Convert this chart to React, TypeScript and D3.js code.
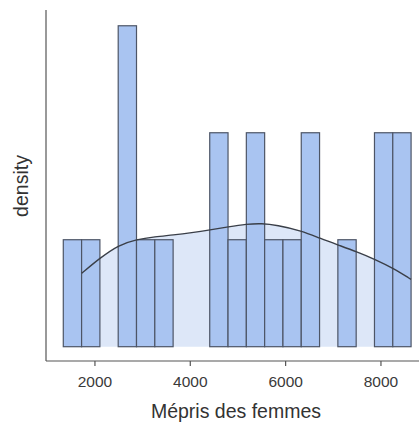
import * as d3 from 'd3'

// histogram bins (value axis), 19 bins of equal width
const binStart = 1336
const binWidth = 384
const counts = [1, 1, 0, 3, 1, 1, 0, 0, 2, 1, 2, 1, 1, 2, 0, 1, 0, 2, 2]

// density curve
const densX = [1722, 2106, 2490, 2876, 3260, 3644, 4030, 4414, 4798, 5184, 5498, 5813, 6337, 6721, 7105, 7491, 7875, 8259, 8630]
const densY = [
  0.0000851, 0.0001028, 0.0001178, 0.0001245, 0.0001275, 0.0001295, 0.0001321, 0.0001353, 0.000139, 0.0001422,
  0.000143, 0.000141, 0.0001344, 0.0001256, 0.0001178, 0.0001101, 0.0001013, 0.0000909, 0.0000781,
]

const xTicks = [2000, 4000, 6000, 8000]

const W = 419
const H = 423
const left = 46
const bottom = 361
const top = 10

const App = () => {
  const n = d3.sum(counts)
  const bins = counts.map((c, i) => ({
    x0: binStart + i * binWidth,
    x1: binStart + (i + 1) * binWidth,
    d: c / (n * binWidth),
  }))
  const dens = densX.map((x, i) => ({ x, y: densY[i] }))

  const xScale = d3.scaleLinear().domain([0, 8798]).range([-0.4, W])
  const yScale = d3.scaleLinear().domain([-1.657e-5, 3.903e-4]).range([bottom, top])

  const area = d3
    .area<{ x: number; y: number }>()
    .x((d) => xScale(d.x))
    .y0(yScale(0))
    .y1((d) => yScale(d.y))
    .curve(d3.curveBasis)
  const line = d3
    .line<{ x: number; y: number }>()
    .x((d) => xScale(d.x))
    .y((d) => yScale(d.y))
    .curve(d3.curveBasis)

  const font = 'Liberation Sans, Arial, sans-serif'

  return (
    <svg width={W} height={H} style={{ position: 'absolute', left: 0, top: 0 }}>
      <rect width={W} height={H} fill="#ffffff" />
      <path d={area(dens) ?? ''} fill="#dde7f8" />
      {bins
        .filter((b) => b.d > 0)
        .map((b, i) => (
          <rect
            key={i}
            x={xScale(b.x0)}
            y={yScale(b.d)}
            width={xScale(b.x1) - xScale(b.x0)}
            height={yScale(0) - yScale(b.d)}
            fill="#a9c4f1"
            stroke="#4d5566"
            strokeWidth={1.2}
          />
        ))}
      <path d={line(dens) ?? ''} fill="none" stroke="#3a3f48" strokeWidth={1.4} />
      <line x1={left} x2={W} y1={bottom} y2={bottom} stroke="#555" strokeWidth={1.2} />
      <line x1={left} x2={left} y1={top} y2={bottom} stroke="#555" strokeWidth={1.2} />
      {xTicks.map((t) => (
        <g key={t} transform={`translate(${xScale(t)},${bottom})`}>
          <line y2={5} stroke="#555" strokeWidth={1.2} />
          <text y={26} textAnchor="middle" fontSize={15.5} fill="#3a3a3a" fontFamily={font}>
            {t}
          </text>
        </g>
      ))}
      <text x={236} y={418} textAnchor="middle" fontSize={19.5} fill="#333" fontFamily={font}>
        Mépris des femmes
      </text>
      <text
        transform={`translate(28,186) rotate(-90)`}
        textAnchor="middle"
        fontSize={19.5}
        fill="#333"
        fontFamily={font}
      >
        density
      </text>
    </svg>
  )
}

export default App
